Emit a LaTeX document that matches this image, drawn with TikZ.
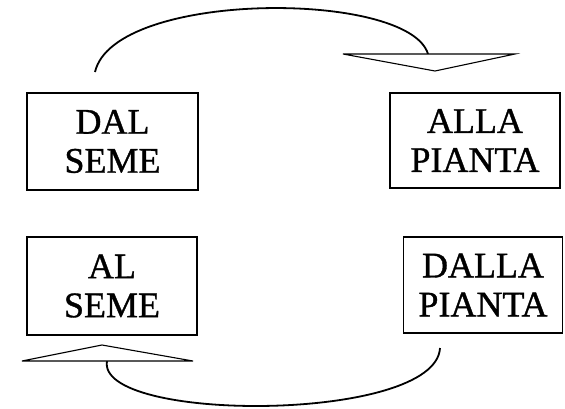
\documentclass[tikz,border=0pt]{standalone}
\usepackage{fontspec}
\setmainfont{Liberation Serif}[FakeBold=1.0]
\begin{document}
\begin{tikzpicture}[x=1pt,y=-1pt,
  stagebox/.style={draw,line width=1.4pt,inner sep=0pt,align=center,
    font=\fontsize{36}{39}\selectfont},
  cyclearc/.style={line width=1.8pt},
  hollowtip/.style={line width=1.1pt,line join=miter}]
\useasboundingbox (0,0) rectangle (565,408);
% boxes
\node[stagebox,minimum width=171pt,minimum height=97pt] (dal) at (112.5,141.5) {DAL\\SEME};
\node[stagebox,minimum width=170pt,minimum height=95pt] (alla) at (475,140.5) {ALLA\\PIANTA};
\node[stagebox,minimum width=170pt,minimum height=98pt] (al) at (112,286) {AL\\SEME};
\node[stagebox,minimum width=159pt,minimum height=96pt] (dalla) at (483,285) {DALLA\\PIANTA};
% top arrow
\coordinate (t1) at (95,72);
\coordinate (t2) at (428,54);
\draw[cyclearc] (t1) .. controls (114,-10) and (409,-10) .. (t2);
\draw[hollowtip,fill=white] (343,54) -- (515,54) -- (435,71) -- cycle;
% bottom arrow
\coordinate (b1) at (440,348);
\coordinate (b2) at (107,361);
\draw[cyclearc] (b1) .. controls (436,423) and (96,423) .. (b2);
\draw[hollowtip,fill=white] (22,361) -- (193,361) -- (102,345) -- cycle;
\end{tikzpicture}
\end{document}
